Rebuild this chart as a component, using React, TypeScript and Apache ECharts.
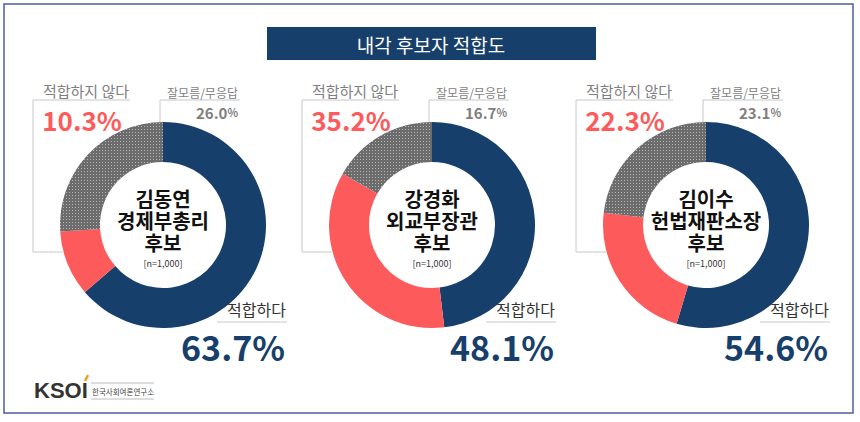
import React, { useEffect, useRef } from "react";
import * as echarts from "echarts";

const titleText = "내각 후보자 적합도";
const candidateNames = ["김동연", "강경화", "김이수"];
const candidatePosts = ["경제부총리", "외교부장관", "헌법재판소장"];
const sampleLabel = "[n=1,000]";
const categories = ["적합하다", "적합하지 않다", "잘모름/무응답"];
const fitValues = [63.7, 48.1, 54.6];
const unfitValues = [10.3, 35.2, 22.3];
const dkValues = [26.0, 16.7, 23.1];

const centersX = [163, 432, 706];
const centerY = 225;
const FONT = "'Noto Sans CJK KR', 'Noto Sans', sans-serif";
const NAVY = "#173f6c";
const RED = "#fd5b5b";
const GRAY = "#7f7f7f";

export default function App() {
  const ref = useRef<HTMLDivElement>(null);
  useEffect(() => {
    if (!ref.current) return;
    const chart = echarts.init(ref.current, undefined, { renderer: "svg" });

    const series: any[] = centersX.map((cx, i) => ({
      type: "pie",
      center: [cx, centerY],
      radius: [63, 103],
      startAngle: 90,
      clockwise: true,
      silent: true,
      label: { show: false },
      labelLine: { show: false },
      data: [
        { name: categories[0], value: fitValues[i], itemStyle: { color: NAVY } },
        { name: categories[1], value: unfitValues[i], itemStyle: { color: RED } },
        {
          name: categories[2],
          value: dkValues[i],
          itemStyle: {
            color: "#6c6c6c",
            decal: {
              symbol: "rect",
              symbolSize: 1,
              color: "rgba(255,255,255,0.5)",
              dashArrayX: [1, 2],
              dashArrayY: [1, 2],
              rotation: 0,
            },
          },
        },
      ],
    }));

    const graphics: any[] = [
      {
        type: "rect",
        shape: { x: 4, y: 4, width: 849, height: 409 },
        style: { fill: "none", stroke: "#4d5f9c", lineWidth: 1.5 },
      },
      {
        type: "rect",
        shape: { x: 267, y: 27, width: 329, height: 33 },
        style: { fill: NAVY },
      },
      {
        type: "text",
        x: 431,
        y: 44,
        style: {
          text: titleText,
          fill: "#fff",
          font: `19px ${FONT}`,
          align: "center",
          verticalAlign: "middle",
        },
      },
    ];

    centersX.forEach((cx, i) => {
      const cy = centerY;
      graphics.push({
        type: "polyline",
        shape: {
          points: [
            [cx - 33, cy - 125],
            [cx - 130, cy - 125],
            [cx - 130, cy + 27],
            [cx - 100, cy + 27],
          ],
        },
        style: { stroke: "#c8c8c8", lineWidth: 1, fill: "none" },
      });
      graphics.push({
        type: "polyline",
        shape: {
          points: [
            [cx - 3, cy - 103],
            [cx - 3, cy - 125],
            [cx + 77, cy - 125],
          ],
        },
        style: { stroke: "#c8c8c8", lineWidth: 1, fill: "none" },
      });
      graphics.push({
        type: "line",
        shape: { x1: cx + 54, y1: cy + 97, x2: cx + 124, y2: cy + 97 },
        style: { stroke: "#c8c8c8", lineWidth: 1 },
      });
      graphics.push({
        type: "text",
        x: cx - 77,
        y: cy - 135,
        style: {
          text: categories[1],
          fill: GRAY,
          font: `15px ${FONT}`,
          align: "center",
          verticalAlign: "middle",
        },
      });
      graphics.push({
        type: "text",
        x: cx - 81,
        y: cy - 106,
        style: {
          text: unfitValues[i].toFixed(1) + "%",
          fill: RED,
          font: `bold 26px ${FONT}`,
          align: "center",
          verticalAlign: "middle",
        },
      });
      graphics.push({
        type: "text",
        x: cx + 75,
        y: cy - 133,
        style: {
          text: categories[2],
          fill: GRAY,
          font: `12px ${FONT}`,
          align: "right",
          verticalAlign: "middle",
        },
      });
      graphics.push({
        type: "text",
        x: cx + 75,
        y: cy - 113,
        style: {
          text: `{a|${dkValues[i].toFixed(1)}}{b|%}`,
          align: "right",
          verticalAlign: "middle",
          rich: {
            a: { fill: GRAY, font: `bold 15px ${FONT}` },
            b: { fill: GRAY, font: `bold 11px ${FONT}` },
          },
        },
      });
      graphics.push({
        type: "text",
        x: cx + 123,
        y: cy + 84,
        style: {
          text: categories[0],
          fill: "#333",
          font: `16px ${FONT}`,
          align: "right",
          verticalAlign: "middle",
        },
      });
      graphics.push({
        type: "text",
        x: cx + 122,
        y: cy + 121,
        style: {
          text: fitValues[i].toFixed(1) + "%",
          fill: NAVY,
          font: `bold 34px ${FONT}`,
          align: "right",
          verticalAlign: "middle",
        },
      });
      graphics.push({
        type: "text",
        x: cx,
        y: cy + 5,
        style: {
          text: `{t|${candidateNames[i]}}\n{t|${candidatePosts[i]}}\n{t|후보}\n{n|${sampleLabel}}`,
          align: "center",
          verticalAlign: "middle",
          rich: {
            t: {
              fill: "#111",
              font: `bold 20px ${FONT}`,
              lineHeight: 22,
              align: "center",
            },
            n: {
              fill: "#333",
              font: `9px ${FONT}`,
              lineHeight: 20,
              align: "center",
            },
          },
        },
      });
    });

    graphics.push({
      type: "text",
      x: 34,
      y: 390,
      style: {
        text: "KSOI",
        fill: "#333",
        font: `bold 22px 'Liberation Sans', sans-serif`,
        align: "left",
        verticalAlign: "middle",
      },
    });
    graphics.push({
      type: "line",
      shape: { x1: 85, y1: 381, x2: 88, y2: 375 },
      style: { stroke: "#f0a020", lineWidth: 2.5 },
    });
    graphics.push({
      type: "line",
      shape: { x1: 91, y1: 383, x2: 154, y2: 383 },
      style: { stroke: "#bbb", lineWidth: 1 },
    });
    graphics.push({
      type: "line",
      shape: { x1: 91, y1: 399, x2: 154, y2: 399 },
      style: { stroke: "#bbb", lineWidth: 1 },
    });
    graphics.push({
      type: "text",
      x: 92,
      y: 391,
      style: {
        text: "한국사회여론연구소",
        fill: "#444",
        font: `7.5px ${FONT}`,
        align: "left",
        verticalAlign: "middle",
      },
    });

    chart.setOption({
      animation: false,
      backgroundColor: "#fff",
      series,
      graphic: graphics,
    });
    return () => chart.dispose();
  }, []);
  return (
    <div
      ref={ref}
      style={{ position: "fixed", left: 0, top: 0, width: 860, height: 422 }}
    />
  );
}
